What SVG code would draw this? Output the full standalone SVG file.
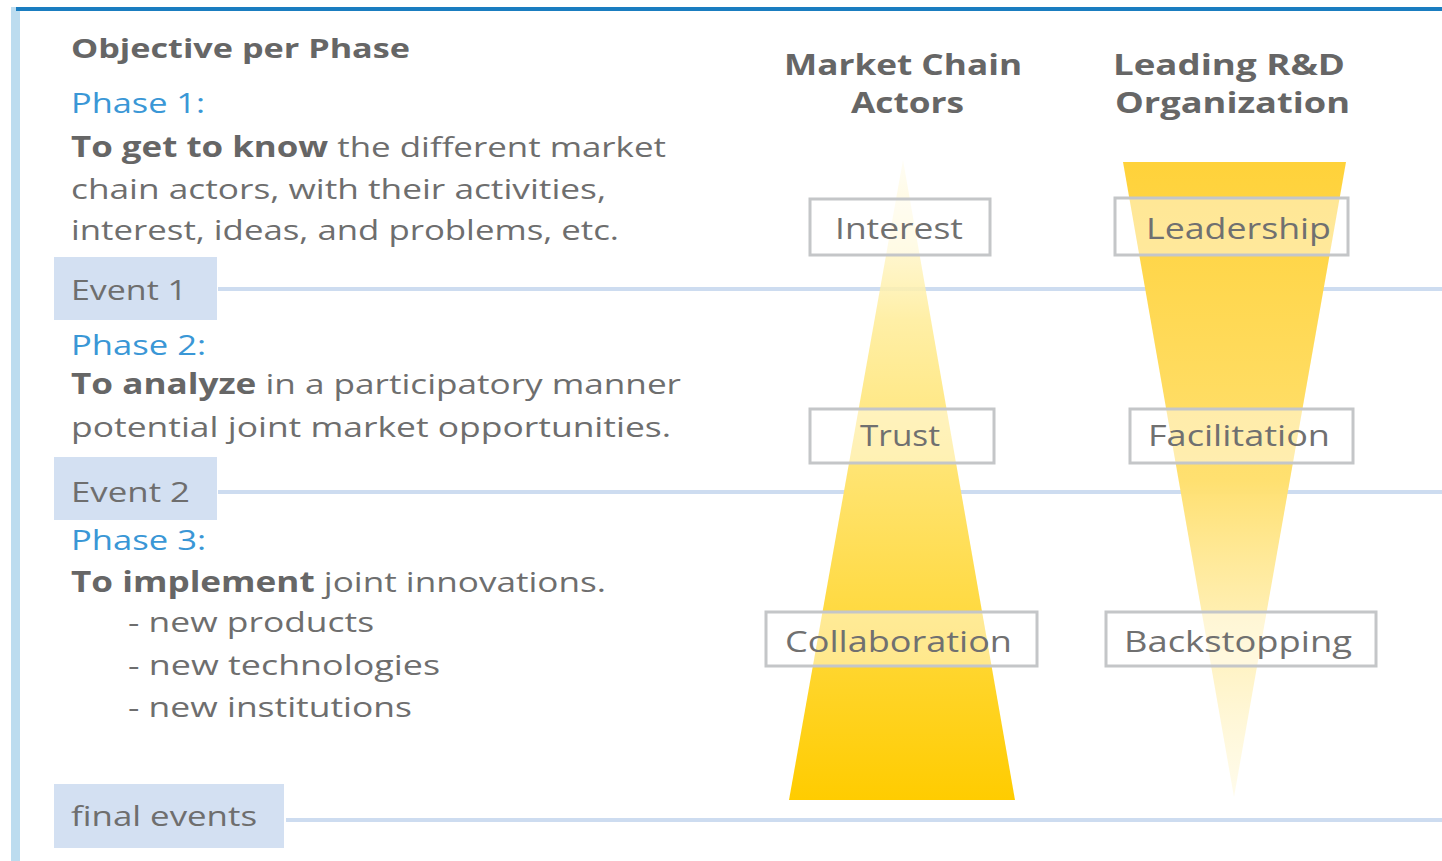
<svg xmlns="http://www.w3.org/2000/svg" width="1442" height="861" viewBox="0 0 1442 861">
<defs>
<linearGradient id="gUp" x1="0" y1="0" x2="0" y2="1">
<stop offset="0" stop-color="#fff6c8" stop-opacity="0.2"/>
<stop offset="0.25" stop-color="#ffefa6"/>
<stop offset="1" stop-color="#ffcc00"/>
</linearGradient>
<linearGradient id="gDown" x1="0" y1="0" x2="0" y2="1">
<stop offset="0" stop-color="#ffd23a"/>
<stop offset="0.5" stop-color="#ffe070"/>
<stop offset="1" stop-color="#fff8d8" stop-opacity="0.5"/>
</linearGradient>
<style>
text{font-family:"Open Sans","Liberation Sans",sans-serif;fill:#6e6e6e;}
.t{font-size:28px;}
.b{font-weight:bold;}
.ph{fill:#3a97d6;font-size:28px;}
.hd{font-size:29px;font-weight:bold;fill:#666;}
.ev{fill:#d3e0f2;}
.ln{stroke:#cddcf0;stroke-width:4;fill:none;}
.lb{fill:#ffffff;fill-opacity:0.45;stroke:#c4c6c8;stroke-width:3;}
.lt{font-size:29px;fill:#707070;}
</style>
</defs>
<rect x="0" y="0" width="1442" height="861" fill="#ffffff"/>
<rect x="11" y="7" width="9" height="854" fill="#bcdcef"/>
<rect x="16" y="7" width="1426" height="4" fill="#1a7dc0"/>

<g id="connectors">
<line class="ln" x1="218" y1="289" x2="1442" y2="289"/>
<line class="ln" x1="218" y1="492" x2="1442" y2="492"/>
<line class="ln" x1="286" y1="820" x2="1442" y2="820"/>
</g>

<g id="triangle-market">
<polygon points="903,160 1015,800 789,800" fill="url(#gUp)"/>
</g>
<g id="triangle-rd">
<polygon points="1123,162 1346,162 1234,797" fill="url(#gDown)"/>
</g>

<g id="header-left">
<text x="71" y="58" class="b" style="font-size:27px;fill:#666" textLength="339" lengthAdjust="spacingAndGlyphs">Objective per Phase</text>
</g>
<g id="header-market">
<text x="784" y="75" class="hd" textLength="238" lengthAdjust="spacingAndGlyphs">Market Chain</text>
<text x="851" y="113" class="hd" textLength="113" lengthAdjust="spacingAndGlyphs">Actors</text>
</g>
<g id="header-rd">
<text x="1113" y="75" class="hd" textLength="232" lengthAdjust="spacingAndGlyphs">Leading R&amp;D</text>
<text x="1115" y="113" class="hd" textLength="235" lengthAdjust="spacingAndGlyphs">Organization</text>
</g>

<g id="phase1">
<text x="71" y="113" class="ph" textLength="134" lengthAdjust="spacingAndGlyphs">Phase 1:</text>
<text x="71" y="157" class="t" textLength="595" lengthAdjust="spacingAndGlyphs"><tspan class="b" style="fill:#666">To get to know</tspan> the different market</text>
<text x="71" y="199" class="t" textLength="535" lengthAdjust="spacingAndGlyphs">chain actors, with their activities,</text>
<text x="71" y="240" class="t" textLength="548" lengthAdjust="spacingAndGlyphs">interest, ideas, and problems, etc.</text>
</g>
<g id="event1">
<rect class="ev" x="54" y="257" width="163" height="63"/>
<text x="71" y="300" class="t" textLength="116" lengthAdjust="spacingAndGlyphs">Event 1</text>
</g>
<g id="phase2">
<text x="71" y="355" class="ph" textLength="135" lengthAdjust="spacingAndGlyphs">Phase 2:</text>
<text x="71" y="394" class="t" textLength="610" lengthAdjust="spacingAndGlyphs"><tspan class="b" style="fill:#666">To analyze</tspan> in a participatory manner</text>
<text x="71" y="437" class="t" textLength="600" lengthAdjust="spacingAndGlyphs">potential joint market opportunities.</text>
</g>
<g id="event2">
<rect class="ev" x="54" y="457" width="163" height="63"/>
<text x="71" y="502" class="t" textLength="119" lengthAdjust="spacingAndGlyphs">Event 2</text>
</g>
<g id="phase3">
<text x="71" y="550" class="ph" textLength="135" lengthAdjust="spacingAndGlyphs">Phase 3:</text>
<text x="71" y="592" class="t" textLength="535" lengthAdjust="spacingAndGlyphs"><tspan class="b" style="fill:#666">To implement</tspan> joint innovations.</text>
<text x="128" y="632" class="t" textLength="246" lengthAdjust="spacingAndGlyphs">- new products</text>
<text x="128" y="675" class="t" textLength="312" lengthAdjust="spacingAndGlyphs">- new technologies</text>
<text x="128" y="717" class="t" textLength="284" lengthAdjust="spacingAndGlyphs">- new institutions</text>
</g>
<g id="final-events">
<rect class="ev" x="54" y="784" width="230" height="64"/>
<text x="71" y="826" class="t" textLength="186" lengthAdjust="spacingAndGlyphs">final events</text>
</g>

<g id="label-interest">
<rect class="lb" x="810" y="199" width="180" height="56"/>
<text x="835" y="239" class="lt" textLength="128" lengthAdjust="spacingAndGlyphs">Interest</text>
</g>
<g id="label-leadership">
<rect class="lb" x="1115" y="198" width="233" height="57"/>
<text x="1146" y="239" class="lt" textLength="185" lengthAdjust="spacingAndGlyphs">Leadership</text>
</g>
<g id="label-trust">
<rect class="lb" x="810" y="409" width="184" height="54"/>
<text x="860" y="446" class="lt" textLength="80" lengthAdjust="spacingAndGlyphs">Trust</text>
</g>
<g id="label-facilitation">
<rect class="lb" x="1130" y="409" width="223" height="54"/>
<text x="1148" y="446" class="lt" textLength="182" lengthAdjust="spacingAndGlyphs">Facilitation</text>
</g>
<g id="label-collaboration">
<rect class="lb" x="766" y="612" width="271" height="54"/>
<text x="785" y="652" class="lt" textLength="227" lengthAdjust="spacingAndGlyphs">Collaboration</text>
</g>
<g id="label-backstopping">
<rect class="lb" x="1106" y="612" width="270" height="54"/>
<text x="1124" y="652" class="lt" textLength="228" lengthAdjust="spacingAndGlyphs">Backstopping</text>
</g>
</svg>
